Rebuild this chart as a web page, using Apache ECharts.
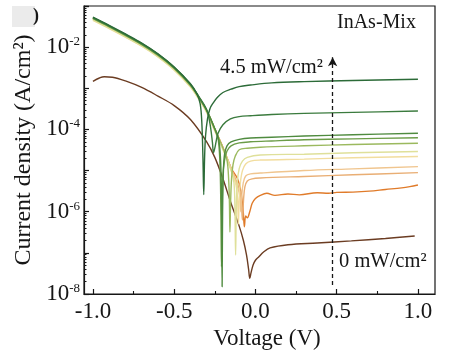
<!DOCTYPE html>
<html><head><meta charset="utf-8">
<script src="https://cdn.jsdelivr.net/npm/echarts@6/dist/echarts.min.js"></script>
<style>html,body{margin:0;padding:0;background:#fff}#c{width:451px;height:356px}</style>
</head><body><div id="c"></div><script>
// ---- data (voltage V, current density A/cm^2) ----
const darkCurve = [[-1.0,1.48e-3],[-0.96,1.78e-3],[-0.93,1.91e-3],[-0.88,1.86e-3],[-0.8,1.51e-3],[-0.7,1.05e-3],[-0.6,6.46e-4],[-0.5,3.8e-4],[-0.4,1.74e-4],[-0.3,5.01e-5],[-0.25,2.09e-5],[-0.2,6.31e-6],[-0.154,1.78e-6],[-0.1,4.47e-7],[-0.074,2.0e-7],[-0.055,8.91e-8],[-0.042,3.98e-8],[-0.035,2.4e-8],[-0.028,3.16e-8],[-0.015,5.01e-8],[0.0,6.61e-8],[0.02,7.94e-8],[0.05,1.05e-7],[0.09,1.32e-7],[0.2,1.58e-7],[0.38,1.74e-7],[0.59,1.95e-7],[0.8,2.24e-7],[0.98,2.57e-7]];
const light1 = [[-1.0,5.37e-2],[-0.9,3.39e-2],[-0.8,2.09e-2],[-0.7,1.26e-2],[-0.6,6.92e-3],[-0.5,3.31e-3],[-0.4,1.29e-3],[-0.36,7.24e-4],[-0.34,4.17e-4],[-0.33,1.5e-4],[-0.323,2.0e-5],[-0.318,2.6e-6],[-0.313,2.0e-5],[-0.307,7.0e-5],[-0.295,1.8e-4],[-0.28,3.2e-4],[-0.26,4.4e-4],[-0.235,6.0e-4],[-0.2,7.9e-4],[-0.15,9.5e-4],[-0.1,1.1e-3],[-0.03,1.2e-3],[0.1,1.35e-3],[0.3,1.45e-3],[0.6,1.55e-3],[1.0,1.66e-3]];
const light2 = [[-1.0,5.25e-2],[-0.9,3.31e-2],[-0.8,2.04e-2],[-0.7,1.23e-2],[-0.6,6.76e-3],[-0.5,3.24e-3],[-0.4,1.26e-3],[-0.35,6.46e-4],[-0.3,3.02e-4],[-0.28,1.4e-4],[-0.265,5.0e-5],[-0.258,2.7e-5],[-0.25,3.5e-5],[-0.24,5.6e-5],[-0.23,8.1e-5],[-0.2,1.3e-4],[-0.154,1.8e-4],[-0.1,2.05e-4],[-0.03,2.15e-4],[0.1,2.3e-4],[0.3,2.45e-4],[0.6,2.6e-4],[1.0,2.8e-4]];
const light3 = [[-1.0,5.13e-2],[-0.9,3.24e-2],[-0.8,2.0e-2],[-0.7,1.2e-2],[-0.6,6.61e-3],[-0.5,3.16e-3],[-0.4,1.23e-3],[-0.35,6.31e-4],[-0.3,2.95e-4],[-0.25,1.05e-4],[-0.225,5.5e-5],[-0.213,1.26e-5],[-0.208,1.0e-6],[-0.205,1.5e-8],[-0.202,1.0e-6],[-0.197,1.0e-5],[-0.19,2.5e-5],[-0.175,4.0e-5],[-0.15,5.0e-5],[-0.1,5.75e-5],[-0.03,6.2e-5],[0.1,6.45e-5],[0.3,6.9e-5],[0.6,7.4e-5],[1.0,8.1e-5]];
const light4 = [[-1.0,5.01e-2],[-0.9,3.16e-2],[-0.8,1.95e-2],[-0.7,1.17e-2],[-0.6,6.46e-3],[-0.5,3.09e-3],[-0.4,1.2e-3],[-0.35,6.17e-4],[-0.3,2.88e-4],[-0.25,1.02e-4],[-0.228,5.3e-5],[-0.217,1.0e-5],[-0.212,6.3e-7],[-0.209,4.6e-8],[-0.205,1.0e-6],[-0.2,7.9e-6],[-0.19,1.8e-5],[-0.175,3.0e-5],[-0.15,4.0e-5],[-0.1,4.7e-5],[-0.03,5.0e-5],[0.1,5.25e-5],[0.3,5.6e-5],[0.6,5.9e-5],[1.0,6.3e-5]];
const light5 = [[-1.0,4.9e-2],[-0.9,3.09e-2],[-0.8,1.91e-2],[-0.7,1.15e-2],[-0.6,6.31e-3],[-0.5,3.02e-3],[-0.4,1.17e-3],[-0.35,6.03e-4],[-0.3,2.82e-4],[-0.25,1.0e-4],[-0.2,3.55e-5],[-0.175,1.8e-5],[-0.165,6.3e-6],[-0.16,1.6e-6],[-0.157,3.2e-7],[-0.153,1.6e-6],[-0.147,6.3e-6],[-0.138,1.4e-5],[-0.125,2.2e-5],[-0.1,3.2e-5],[-0.05,3.5e-5],[0.03,3.7e-5],[0.3,4.0e-5],[0.6,4.3e-5],[1.0,4.6e-5]];
const light6 = [[-1.0,4.57e-2],[-0.9,2.88e-2],[-0.8,1.78e-2],[-0.7,1.07e-2],[-0.6,5.89e-3],[-0.5,2.82e-3],[-0.4,1.1e-3],[-0.35,5.62e-4],[-0.3,2.63e-4],[-0.25,9.33e-5],[-0.2,3.31e-5],[-0.15,1.05e-5],[-0.132,5.0e-6],[-0.126,1.0e-6],[-0.122,8.9e-8],[-0.118,1.0e-6],[-0.112,5.0e-6],[-0.1,1.12e-5],[-0.08,1.7e-5],[-0.05,2.1e-5],[0.03,2.4e-5],[0.3,2.5e-5],[0.6,2.7e-5],[1.0,2.9e-5]];
const light7 = [[-1.0,4.47e-2],[-0.9,2.82e-2],[-0.8,1.74e-2],[-0.7,1.05e-2],[-0.6,5.75e-3],[-0.5,2.75e-3],[-0.4,1.07e-3],[-0.35,5.5e-4],[-0.3,2.57e-4],[-0.25,9.12e-5],[-0.2,3.24e-5],[-0.15,1.02e-5],[-0.12,4.5e-6],[-0.11,2.0e-6],[-0.105,5.0e-7],[-0.1,2.0e-6],[-0.093,5.0e-6],[-0.08,1.0e-5],[-0.06,1.45e-5],[-0.03,1.7e-5],[0.03,1.8e-5],[0.3,1.9e-5],[0.6,2.05e-5],[1.0,2.2e-5]];
const light8 = [[-1.0,4.9e-2],[-0.9,3.09e-2],[-0.8,1.91e-2],[-0.7,1.15e-2],[-0.6,6.31e-3],[-0.5,3.02e-3],[-0.4,1.17e-3],[-0.35,6.03e-4],[-0.3,2.82e-4],[-0.25,1.0e-4],[-0.2,3.55e-5],[-0.15,1.12e-5],[-0.11,4.0e-6],[-0.097,2.5e-6],[-0.09,1.0e-6],[-0.084,2.5e-6],[-0.075,5.0e-6],[-0.06,7.4e-6],[-0.03,8.3e-6],[0.03,8.7e-6],[0.3,1.0e-5],[0.6,1.1e-5],[1.0,1.25e-5]];
const light9 = [[-1.0,5.01e-2],[-0.9,3.16e-2],[-0.8,1.95e-2],[-0.7,1.17e-2],[-0.6,6.46e-3],[-0.5,3.09e-3],[-0.4,1.2e-3],[-0.35,6.17e-4],[-0.3,2.88e-4],[-0.25,1.02e-4],[-0.2,3.63e-5],[-0.15,1.15e-5],[-0.1,3.63e-6],[-0.088,2.0e-6],[-0.08,6.3e-7],[-0.073,2.0e-6],[-0.065,4.0e-6],[-0.05,5.6e-6],[-0.02,6.3e-6],[0.03,6.6e-6],[0.3,7.2e-6],[0.6,7.9e-6],[1.0,8.9e-6]];
const light10 = [[-1.0,5.01e-2],[-0.9,3.16e-2],[-0.8,1.95e-2],[-0.7,1.17e-2],[-0.6,6.46e-3],[-0.5,3.09e-3],[-0.4,1.2e-3],[-0.35,6.17e-4],[-0.3,2.88e-4],[-0.25,1.02e-4],[-0.2,3.63e-5],[-0.15,1.15e-5],[-0.11,6.3e-6],[-0.09,3.2e-6],[-0.075,1.0e-6],[-0.068,4.3e-7],[-0.06,7.9e-7],[-0.05,7.1e-7],[-0.035,1.0e-6],[-0.02,1.6e-6],[0.0,2.1e-6],[0.03,2.5e-6],[0.07,2.8e-6],[0.12,2.5e-6],[0.2,2.7e-6],[0.27,2.57e-6],[0.38,2.9e-6],[0.45,2.8e-6],[0.5,2.95e-6],[0.6,3.0e-6],[0.7,3.16e-6],[0.8,3.47e-6],[0.9,3.8e-6],[0.95,4.07e-6],[1.0,4.47e-6]];

const xTickLabels = [-1.0, -0.5, 0.0, 0.5, 1.0];
const xMinorTicks = [-0.75, -0.25, 0.25, 0.75];
const arrowX = 0.475;

const FONT = "'Liberation Serif','Times New Roman',serif";
const INK = '#161616';
const X_MIN = -1.055, X_MAX = 1.105;

// minor log tick positions (exponent space) for the tick-only axis
const yMinorTicks = [];
for (let n = -8; n < -1; n++) { for (let k = 2; k <= 9; k++) yMinorTicks.push(n + Math.log10(k)); }

const curves = [
  {d: darkCurve, c: '#6b3c22'},
  {d: light10, c: '#e07b2a'},
  {d: light9, c: '#e9ae74'},
  {d: light8, c: '#f0c58e'},
  {d: light7, c: '#f2dd9e'},
  {d: light6, c: '#dfe09a'},
  {d: light5, c: '#9bb95e'},
  {d: light4, c: '#6b9c47'},
  {d: light3, c: '#4f8b3f'},
  {d: light2, c: '#3b7b3e'},
  {d: light1, c: '#2c6b38'}
];

const series = curves.map((cv) => ({
  type: 'line', data: cv.d, showSymbol: false, smooth: 0.35,
  lineStyle: {color: cv.c, width: 1.4}, silent: true, animation: false
}));
series[0].markLine = {
  silent: true, animation: false, symbol: ['none', 'arrow'], symbolSize: [7, 9],
  label: {show: false},
  lineStyle: {color: INK, type: [4, 3], width: 1.3},
  data: [[{coord: [arrowX, 1.65e-8]}, {coord: [arrowX, 5.7e-3]}]]
};

const option = {
  animation: false,
  backgroundColor: '#fff',
  grid: {left: 84, right: 16, top: 6, bottom: 62, show: true, borderColor: INK, borderWidth: 1.2, outerBoundsMode: 'none'},
  xAxis: [{
    type: 'value', min: X_MIN, max: X_MAX, position: 'bottom',
    name: 'Voltage (V)', nameLocation: 'middle', nameGap: 32,
    nameTextStyle: {fontFamily: FONT, fontSize: 23, color: INK, padding: [0, 0, 0, 15]},
    axisLine: {show: true, onZero: false, lineStyle: {color: INK, width: 1.2}},
    axisTick: {show: true, inside: true, length: 5, customValues: xTickLabels, lineStyle: {color: INK, width: 1.2}},
    axisLabel: {customValues: xTickLabels, margin: 6, fontFamily: FONT, fontSize: 23, color: INK,
      formatter: v => v.toFixed(1)},
    splitLine: {show: false}
  }, {
    type: 'value', min: X_MIN, max: X_MAX, position: 'bottom',
    axisLine: {show: false, onZero: false},
    axisTick: {show: true, inside: true, length: 3, customValues: xMinorTicks, lineStyle: {color: INK, width: 1.1}},
    axisLabel: {show: false}, splitLine: {show: false}
  }],
  yAxis: [{
    type: 'log', logBase: 10, min: 1e-8, max: 1e-1, position: 'left',
    name: 'Current density (A/cm²)', nameLocation: 'middle', nameGap: 40,
    nameTextStyle: {fontFamily: FONT, fontSize: 24, color: INK},
    axisLine: {show: true, onZero: false, lineStyle: {color: INK, width: 1.2}},
    axisTick: {show: true, inside: true, length: 5, lineStyle: {color: INK, width: 1.2}},
    axisLabel: {margin: 4, color: INK,
      formatter: function (v) { const e = Math.round(Math.log10(v)); return (e % 2 === 0) ? '{b|10}{s|' + e + '}' : ''; },
      rich: {
        b: {fontFamily: FONT, fontSize: 23, color: INK, lineHeight: 24},
        s: {fontFamily: FONT, fontSize: 13, color: INK, verticalAlign: 'top', lineHeight: 13}
      }},
    splitLine: {show: false}
  }, {
    type: 'value', min: -8, max: -1, position: 'left',
    axisLine: {show: false, onZero: false},
    axisTick: {show: true, inside: true, length: 2.5, customValues: yMinorTicks, lineStyle: {color: INK, width: 1}},
    axisLabel: {show: false}, splitLine: {show: false}
  }],
  graphic: [
    {type: 'rect', shape: {x: 12, y: 6, width: 23, height: 21}, style: {fill: '#ebebeb'}, silent: true},
    {type: 'text', x: 33, y: 16, silent: true, style: {text: ')', font: 'bold 18px ' + FONT, fill: INK, align: 'left', verticalAlign: 'middle', textAlign: 'left', textVerticalAlign: 'middle'}},
    {type: 'text', x: 337, y: 23, silent: true, style: {text: 'InAs-Mix', font: '20px ' + FONT, fill: INK, align: 'left', verticalAlign: 'middle', textAlign: 'left', textVerticalAlign: 'middle'}},
    {type: 'text', x: 220, y: 68, silent: true, style: {text: '4.5 mW/cm²', font: '20.5px ' + FONT, fill: INK, align: 'left', verticalAlign: 'middle', textAlign: 'left', textVerticalAlign: 'middle'}},
    {type: 'text', x: 339, y: 262, silent: true, style: {text: '0 mW/cm²', font: '20.5px ' + FONT, fill: INK, align: 'left', verticalAlign: 'middle', textAlign: 'left', textVerticalAlign: 'middle'}}
  ],
  series: series
};

const chart = echarts.init(document.getElementById('c'), null, {renderer: 'canvas'});
chart.setOption(option);
</script></body></html>
